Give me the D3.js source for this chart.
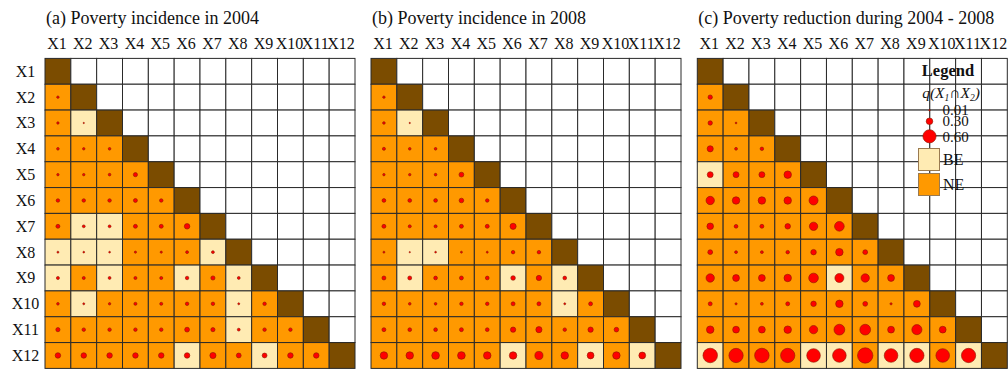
<!DOCTYPE html>
<html><head><meta charset="utf-8">
<script src="https://cdn.jsdelivr.net/npm/d3@7"></script>
<style>body{margin:0;background:#fff}svg{display:block}</style>
</head><body>
<svg id="c" width="1008" height="369"></svg>
<script>
const vars = ["X1","X2","X3","X4","X5","X6","X7","X8","X9","X10","X11","X12"];
const titles = ["(a) Poverty incidence in 2004","(b) Poverty incidence in 2008","(c) Poverty reduction during 2004 - 2008"];
// lower triangle, row Xi (i = 2..12), columns X1..X(i-1)
const qA = [
 [0.11],
 [0.11,0.06],
 [0.12,0.11,0.12],
 [0.11,0.11,0.12,0.19],
 [0.16,0.16,0.16,0.18,0.16],
 [0.18,0.13,0.13,0.18,0.18,0.25],
 [0.09,0.08,0.08,0.10,0.10,0.13,0.13],
 [0.14,0.14,0.13,0.14,0.14,0.16,0.19,0.13],
 [0.12,0.09,0.11,0.14,0.14,0.16,0.16,0.09,0.16],
 [0.19,0.16,0.16,0.16,0.16,0.22,0.19,0.13,0.16,0.16],
 [0.25,0.25,0.25,0.25,0.25,0.25,0.28,0.22,0.22,0.25,0.25]
];
const tA = [
 "N","NB","NNN","NNNN","NNNNN","NBBNNN","BBBNNNB","BNBNNBNB","NBNNNNNBN","NNNNNNNBNN","NNNNNBNNBNN"
];
const qB = [
 [0.11],
 [0.12,0.06],
 [0.14,0.12,0.12],
 [0.11,0.11,0.12,0.22],
 [0.17,0.17,0.17,0.21,0.16],
 [0.18,0.14,0.14,0.18,0.18,0.28],
 [0.09,0.06,0.08,0.09,0.09,0.16,0.16],
 [0.18,0.18,0.17,0.18,0.17,0.21,0.24,0.17],
 [0.16,0.12,0.12,0.16,0.16,0.18,0.18,0.09,0.18],
 [0.18,0.17,0.17,0.18,0.17,0.24,0.28,0.16,0.24,0.21],
 [0.34,0.34,0.35,0.35,0.34,0.34,0.37,0.34,0.31,0.34,0.31]
];
const tB = [
 "N","NB","NNN","NNNN","NNNNN","NNNNNN","NBBNNNN","NBNNNBNB","NNNNNNNBN","NNNNNNNNNN","NNNNNBNNBNB"
];
const qC = [
 [0.20],
 [0.20,0.08],
 [0.28,0.13,0.16],
 [0.27,0.27,0.27,0.34],
 [0.38,0.34,0.34,0.34,0.41],
 [0.30,0.17,0.18,0.25,0.38,0.44],
 [0.22,0.13,0.13,0.16,0.25,0.34,0.22],
 [0.38,0.31,0.31,0.34,0.44,0.41,0.38,0.31],
 [0.18,0.10,0.13,0.18,0.25,0.34,0.22,0.10,0.31],
 [0.34,0.31,0.31,0.34,0.38,0.49,0.49,0.31,0.46,0.31],
 [0.66,0.65,0.66,0.65,0.62,0.62,0.70,0.62,0.65,0.62,0.65]
];
const tC = [
 "N","NN","NNN","BNNN","NNNNN","NNNNNN","NNNNNNN","NNNNNBNN","NNNNNNNNN","NNNNNNNNNN","BNNNBBNBBNB"
];
const legendQ = [0.01, 0.30, 0.60];
const legendTypes = ["BE","NE"];

const panels = [{q:qA,t:tA},{q:qB,t:tB},{q:qC,t:tC}];
const colors = {diag:"#7b4c00", N:"#ff9900", B:"#ffebb3", empty:"#ffffff"};
const font = "'Liberation Serif','Times New Roman',serif";

const svg = d3.select("#c");
const gridTop = 58.4, size = 310, step = 326, left0 = 45;
const r = d3.scaleLinear().domain([0, 0.6]).range([0, 6.6]);

panels.forEach((p, k) => {
  const left = left0 + k * step + (k === 2 ? 0.3 : 0);
  const x = d3.scaleBand().domain(vars).range([left, left + size]);
  const y = d3.scaleBand().domain(vars).range([gridTop, gridTop + size]);
  const g = svg.append("g");
  const cells = [];
  vars.forEach((rv, i) => vars.forEach((cv, j) => {
    let fill = colors.empty, q = null;
    if (i === j) fill = colors.diag;
    else if (j < i) { fill = colors[p.t[i-1][j]]; q = p.q[i-1][j]; }
    cells.push({rv, cv, fill, q});
  }));
  g.selectAll("rect.cell").data(cells).join("rect")
    .attr("x", d => x(d.cv)).attr("y", d => y(d.rv))
    .attr("width", x.bandwidth()).attr("height", y.bandwidth())
    .attr("fill", d => d.fill).attr("stroke", "#2a2a2a").attr("stroke-width", 1);
  g.selectAll("circle.dot").data(cells.filter(d => d.q !== null)).join("circle")
    .attr("cx", d => x(d.cv) + x.bandwidth()/2).attr("cy", d => y(d.rv) + y.bandwidth()/2)
    .attr("r", d => r(d.q)).attr("fill", "#ff0000").attr("stroke", "#8a1a00").attr("stroke-width", 0.6);
  g.selectAll("text.col").data(vars).join("text")
    .attr("x", d => x(d) + x.bandwidth()/2 - 1).attr("y", 49)
    .attr("text-anchor", "middle").attr("font-family", font).attr("font-size", 16)
    .attr("fill", "#111").text(d => d);
  g.append("text").attr("x", left + 1).attr("y", 24).attr("font-family", font)
    .attr("font-size", 18).attr("fill", "#111").text(titles[k]);
  if (k === 0) {
    g.selectAll("text.row").data(vars).join("text")
      .attr("x", 25.5).attr("y", d => y(d) + y.bandwidth()/2 + 5.5)
      .attr("text-anchor", "middle").attr("font-family", font).attr("font-size", 16)
      .attr("fill", "#111").text(d => d);
  }
});

// legend
const lg = svg.append("g").attr("font-family", font).attr("fill", "#111");
lg.append("text").attr("x", 948).attr("y", 75.5).attr("text-anchor", "middle")
  .attr("font-size", 16.5).attr("font-weight", "bold").text("Legend");
const qt = lg.append("text").attr("x", 951).attr("y", 98).attr("text-anchor", "middle")
  .attr("font-size", 15.5).attr("font-style", "italic");
qt.append("tspan").text("q(X");
qt.append("tspan").attr("font-size", 9.5).attr("dy", 2.5).text("1");
qt.append("tspan").attr("dy", -2.5).attr("font-style", "normal").text("∩");
qt.append("tspan").text("X");
qt.append("tspan").attr("font-size", 9.5).attr("dy", 2.5).text("2");
qt.append("tspan").attr("dy", -2.5).text(")");
const lyPos = {0.01:110.3, 0.3:121.3, 0.6:136.3};
const lyText = {0.01:114.6, 0.3:126.3, 0.6:142};
lg.selectAll("circle").data(legendQ).join("circle")
  .attr("cx", 929.5).attr("cy", d => lyPos[d]).attr("r", d => Math.max(r(d), 0.7))
  .attr("fill", "#ff0000").attr("stroke", "#8a1a00").attr("stroke-width", 0.6);
lg.selectAll("text.lq").data(legendQ).join("text")
  .attr("x", 942.5).attr("y", d => lyText[d]).attr("font-size", 15)
  .text(d => d.toFixed(2));
const ty = d3.scaleBand().domain(legendTypes).range([148.5, 195.5]).paddingInner(0.12);
lg.selectAll("rect").data(legendTypes).join("rect")
  .attr("x", 918.5).attr("y", d => ty(d)).attr("width", 21).attr("height", ty.bandwidth())
  .attr("fill", d => d === "BE" ? colors.B : colors.N).attr("stroke", "#9a7a50").attr("stroke-width", 1);
lg.selectAll("text.lt").data(legendTypes).join("text")
  .attr("x", 943).attr("y", d => ty(d) + ty.bandwidth()/2 + 5.5).attr("font-size", 16)
  .text(d => d);
</script>
</body></html>
